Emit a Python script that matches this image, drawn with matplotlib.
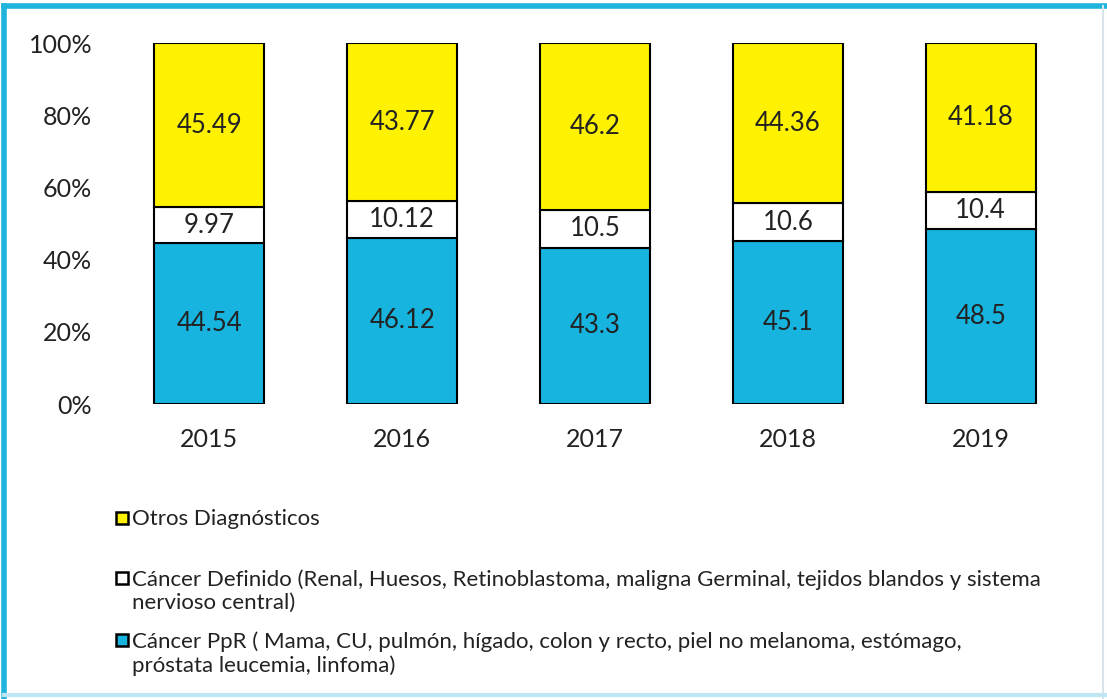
import numpy as np
import matplotlib
matplotlib.use("Agg")
import matplotlib.pyplot as plt
from matplotlib.patches import Rectangle
from matplotlib.lines import Line2D
from matplotlib.ticker import FuncFormatter

plt.rcParams['font.family'] = ['Lato', 'DejaVu Sans']

# data (100% stacked)
years = ['2015', '2016', '2017', '2018', '2019']
cancer_ppr = [44.54, 46.12, 43.3, 45.1, 48.5]
cancer_def = [9.97, 10.12, 10.5, 10.6, 10.4]
otros = [45.49, 43.77, 46.2, 44.36, 41.18]

series_labels = ['Cáncer PpR ( Mama, CU, pulmón, hígado, colon y recto, piel no melanoma, estómago,\npróstata leucemia, linfoma)',
                 'Cáncer Definido (Renal, Huesos, Retinoblastoma, maligna Germinal, tejidos blandos y sistema\nnervioso central)',
                 'Otros Diagnósticos']
colors = ['#17b4e0', '#ffffff', '#fff200']

text_col = '#222222'

fig = plt.figure(figsize=(11.07, 6.99), dpi=100)
ax = fig.add_axes([0.102, 0.422, 0.871, 0.516])

vals = np.array([cancer_ppr, cancer_def, otros])
pct = vals / vals.sum(axis=0) * 100
x = np.arange(len(years))
bottom = np.zeros(len(years))
for i in range(3):
    bars = ax.bar(x, pct[i], bottom=bottom, width=0.57, color=colors[i],
                  edgecolor='black', linewidth=1.5, zorder=2)
    for j, b in enumerate(bars):
        ax.text(b.get_x() + b.get_width() / 2, bottom[j] + pct[i][j] / 2,
                f'{vals[i][j]:g}', ha='center', va='center',
                fontsize=18.5, color=text_col)
    bottom += pct[i]

ax.set_xlim(-0.5, 4.5)
ax.set_ylim(0, 100)
ax.set_yticks(np.arange(0, 101, 20))
ax.yaxis.set_major_formatter(FuncFormatter(lambda v, p: f'{v:.0f}%'))
ax.set_xticks(x)
ax.set_xticklabels(years)
ax.tick_params(axis='both', length=0, labelsize=18, labelcolor=text_col)
ax.tick_params(axis='y', pad=15)
ax.tick_params(axis='x', pad=17)
for s in ax.spines.values():
    s.set_visible(False)

# legend drawn by hand so the marker sits on the first line
W, H = 1107, 699
leg = [(2, 518), (1, 578), (0, 640)]
for idx, ypx in leg:
    fig.add_artist(Rectangle((116 / W, 1 - (ypx + 6) / H), 12 / W, 12 / H,
                             transform=fig.transFigure, facecolor=colors[idx],
                             edgecolor='black', linewidth=1.8))
    fig.text(132 / W, 1 - (ypx - 9) / H, series_labels[idx], fontsize=16,
             color=text_col, va='top', ha='left', linespacing=1.2)

# frame around the picture
fig.add_artist(Line2D([4 / W, 4 / W], [0, 1 - 6 / H], transform=fig.transFigure,
                      color='#1eb4dc', linewidth=4))
fig.add_artist(Line2D([4 / W, 1], [1 - 6 / H, 1 - 6 / H], transform=fig.transFigure,
                      color='#1eb4dc', linewidth=4))
fig.add_artist(Line2D([1 - 4 / W, 1 - 4 / W], [0, 1 - 6 / H], transform=fig.transFigure,
                      color='#d8e4ea', linewidth=1.5))
fig.add_artist(Line2D([4 / W, 1], [4 / H, 4 / H], transform=fig.transFigure,
                      color='#bfe6f2', linewidth=3))

fig.savefig('out.png', dpi=100)
